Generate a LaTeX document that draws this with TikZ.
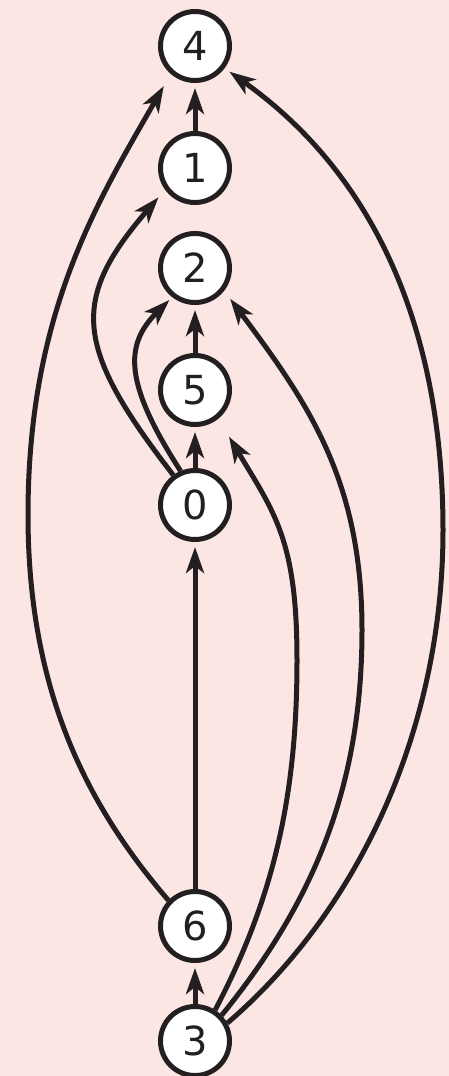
\documentclass[tikz,border=0pt]{standalone}
\usepackage{fontspec}
\setmainfont{DejaVu Sans}
\usetikzlibrary{arrows.meta}
\definecolor{bgpink}{RGB}{251,230,228}
\definecolor{ink}{RGB}{35,31,32}
\begin{document}
\begin{tikzpicture}[x=1pt,y=-1pt,
  vtx/.style={circle,draw=ink,fill=white,line width=5pt,minimum size=69pt,inner sep=0pt,
    font=\fontsize{40}{40}\selectfont,text=ink},
  edge/.style={draw=ink,line width=5pt,-{Stealth[length=26pt,width=18pt,inset=7pt]}}]
\fill[bgpink] (0,0) rectangle (449,1076);
\useasboundingbox (0,0) rectangle (449,1076);
\node[vtx] (n4) at (195,46) {4};
\node[vtx] (n1) at (195,168) {1};
\node[vtx] (n2) at (195,268) {2};
\node[vtx] (n5) at (195,390) {5};
\node[vtx] (n0) at (195,505) {0};
\node[vtx] (n6) at (195,926) {6};
\node[vtx] (n3) at (195,1041) {3};
% straight
\draw[edge,shorten >=5pt] (n1) -- (n4);
\draw[edge,shorten >=5pt] (n5) -- (n2);
\draw[edge,shorten >=5pt] (n0) -- (n5);
\draw[edge,shorten >=5pt] (n6) -- (n0);
\draw[edge,shorten >=5pt] (n3) -- (n6);
% left curves
\draw[edge,shorten >=14pt] (n6.136) .. controls (90,809) and (28,695) .. (28,515)
   .. controls (28,315) and (96,204) .. (n4.229);
\draw[edge,shorten >=10pt] (n0.126) .. controls (74,347) and (70,300) .. (n1.216);
\draw[edge,shorten >=4pt] (n0.113) .. controls (124,383) and (124,345) .. (n2.232);
% right curves
\draw[edge,shorten >=6pt] (n3.29) .. controls (358,911) and (443,730) .. (443,530)
   .. controls (443,330) and (375,175) .. (n4.323);
\draw[edge,shorten >=10pt] (n3.44) .. controls (318,897) and (362,780) .. (362,630)
   .. controls (362,480) and (308,403) .. (n2.322);
\draw[edge,shorten >=21pt] (n3.57) .. controls (276,894) and (297,790) .. (297,660)
   .. controls (297,540) and (274.5,513) .. (n5.309);
\end{tikzpicture}
\end{document}
